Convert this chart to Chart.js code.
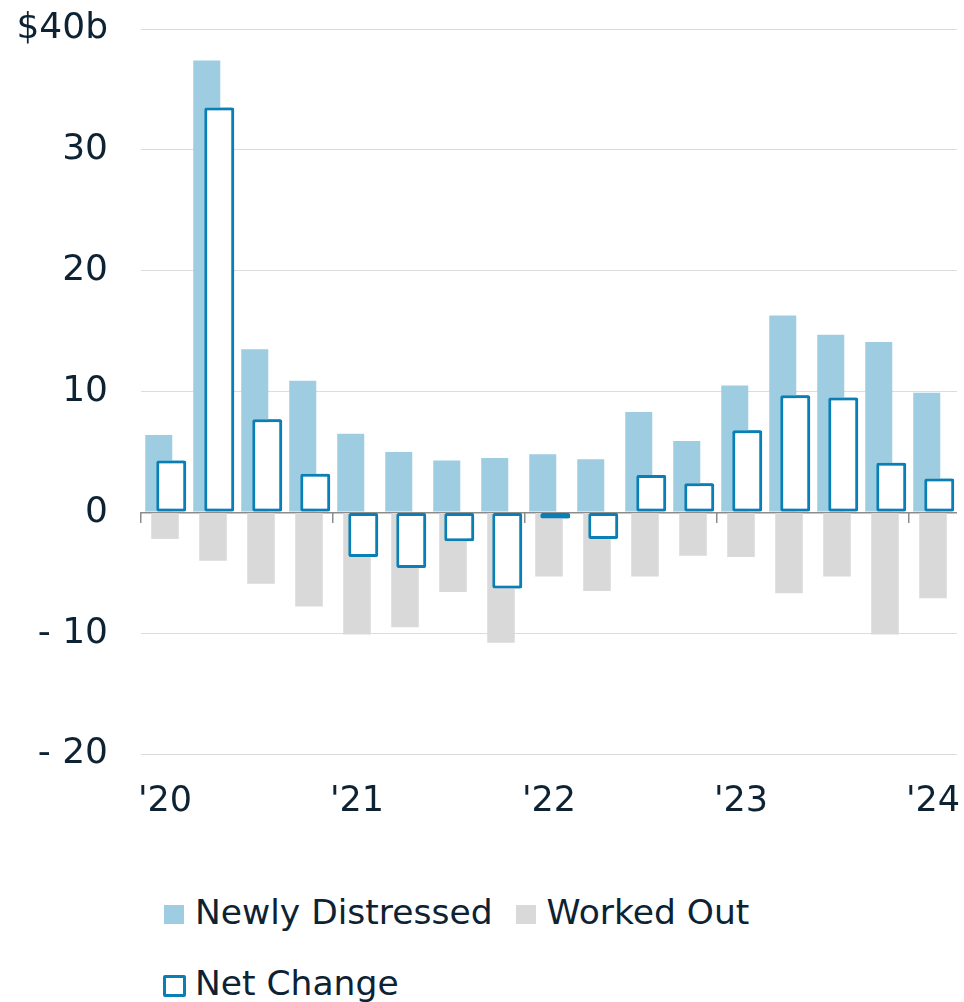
<!DOCTYPE html>
<html>
<head>
<meta charset="utf-8">
<script src="https://cdn.jsdelivr.net/npm/chart.js@4"></script>
<style>
  body { margin: 0; background: #fff; }
  #wrap { position: relative; width: 964px; height: 1002px; overflow: hidden; }
  #chart { position: absolute; left: 0; top: 0; }
  #legend { position: absolute; left: 164px; top: 877px; font-family: 'DejaVu Sans', sans-serif; font-size: 34.5px; color: #0d2233; }
  .row { height: 71px; line-height: 71px; white-space: nowrap; }
  .item { display: inline-block; }
  .sw { display: inline-block; width: 20px; height: 19px; margin-right: 11px; vertical-align: baseline; }
  .sw.net { width: 17px; height: 16px; border: 3px solid #0a7fb5; border-radius: 2px; background: #fff; vertical-align: -2px; margin-left: -1px; margin-right: 9px; }
</style>
</head>
<body>
<div id="wrap">
  <canvas id="chart" width="964" height="868"></canvas>
  <div id="legend"></div>
</div>
<script>
// quarterly CMBS distress, $ billions
var quarters = ['1Q20','2Q20','3Q20','4Q20','1Q21','2Q21','3Q21','4Q21','1Q22','2Q22','3Q22','4Q22','1Q23','2Q23','3Q23','4Q23','1Q24'];
var yearLabels = ["'20", '', '', '', "'21", '', '', '', "'22", '', '', '', "'23", '', '', '', "'24"];
var newlyDistressed = [6.4, 37.4, 13.5, 10.9, 6.5, 5.0, 4.3, 4.5, 4.8, 4.4, 8.3, 5.9, 10.5, 16.3, 14.7, 14.1, 9.9];
var workedOut = [-2.2, -4.0, -5.9, -7.8, -10.1, -9.5, -6.6, -10.8, -5.3, -6.5, -5.3, -3.6, -3.7, -6.7, -5.3, -10.1, -7.1];
var netChange = [4.3, 33.5, 7.7, 3.2, -3.7, -4.6, -2.4, -6.3, -0.5, -2.2, 3.1, 2.4, 6.8, 9.7, 9.5, 4.1, 2.8];

var textColor = '#0d2233';
var blue = '#9ecde2';
var gray = '#d9d9d9';
var netBlue = '#0a7fb5';

// net change bars sit on top of the other two
var netOnTop = {
  id: 'netOnTop',
  afterDatasetsDraw: function(chart) {
    var meta = chart.getDatasetMeta(2);
    if (meta && !meta.hidden) meta.controller.draw();
  }
};

// keep tick labels from pushing the plot area around
function noPad(scale) {
  scale.paddingTop = 0; scale.paddingBottom = 0;
  scale.paddingLeft = 0; scale.paddingRight = 0;
}

var chart = new Chart(document.getElementById('chart'), {
  type: 'bar',
  data: {
    labels: quarters,
    datasets: [
      { label: 'Newly Distressed', data: newlyDistressed, backgroundColor: blue, barPercentage: 4.33 },
      { label: 'Worked Out', data: workedOut, backgroundColor: gray, barPercentage: 4.42 },
      { label: 'Net Change', data: netChange, backgroundColor: '#ffffff', borderColor: netBlue,
        borderWidth: 3, borderSkipped: false, borderRadius: 2, barPercentage: 4.8 }
    ]
  },
  plugins: [netOnTop],
  options: {
    responsive: false,
    devicePixelRatio: 1,
    animation: false,
    datasets: { bar: { categoryPercentage: 0.39 } },
    layout: { padding: { left: 0, right: 7, top: 29, bottom: 18 } },
    plugins: { legend: { display: false }, tooltip: { enabled: false } },
    scales: {
      x: {
        afterFit: noPad,
        grid: { display: false, drawTicks: false },
        border: { display: false },
        ticks: {
          autoSkip: false, maxRotation: 0, padding: 27, color: textColor,
          font: { family: 'DejaVu Sans', size: 35 },
          callback: function(v, i) { return yearLabels[i]; }
        }
      },
      // small year dividers hanging under the zero line
      x0: {
        type: 'category', axis: 'x', position: { y: 0 }, offset: true,
        afterFit: function(scale) { noPad(scale); scale.height = 0; },
        grid: {
          offset: true, drawOnChartArea: false, drawTicks: true, tickLength: 11, lineWidth: 1.5,
          color: function(ctx) { return ctx.index % 4 === 0 ? '#8c8c8c' : 'rgba(0,0,0,0)'; }
        },
        border: { display: false },
        ticks: { display: false }
      },
      y: {
        min: -20, max: 40,
        afterFit: function(scale) { noPad(scale); scale.width = 141; },
        grid: {
          drawTicks: false,
          color: function(ctx) { return ctx.tick.value === 0 ? '#8c8c8c' : '#dcdcdc'; },
          lineWidth: function(ctx) { return ctx.tick.value === 0 ? 1.5 : 1; }
        },
        border: { display: false },
        ticks: {
          stepSize: 10, padding: 33, color: textColor,
          font: { family: 'DejaVu Sans', size: 36 },
          callback: function(v) {
            if (v === 40) return '$40b';
            if (v < 0) return '- ' + Math.abs(v);
            return v;
          }
        }
      }
    }
  }
});

// legend: two rows like the original
var legend = document.getElementById('legend');
var rows = [[0, 1], [2]];
rows.forEach(function(r) {
  var row = document.createElement('div');
  row.className = 'row';
  r.forEach(function(di, k) {
    var ds = chart.data.datasets[di];
    var item = document.createElement('span');
    item.className = 'item';
    if (k > 0) item.style.marginLeft = '23px';
    var sw = document.createElement('span');
    sw.className = di === 2 ? 'sw net' : 'sw';
    if (di !== 2) sw.style.background = ds.backgroundColor;
    item.appendChild(sw);
    item.appendChild(document.createTextNode(ds.label));
    row.appendChild(item);
  });
  legend.appendChild(row);
});
</script>
</body>
</html>
